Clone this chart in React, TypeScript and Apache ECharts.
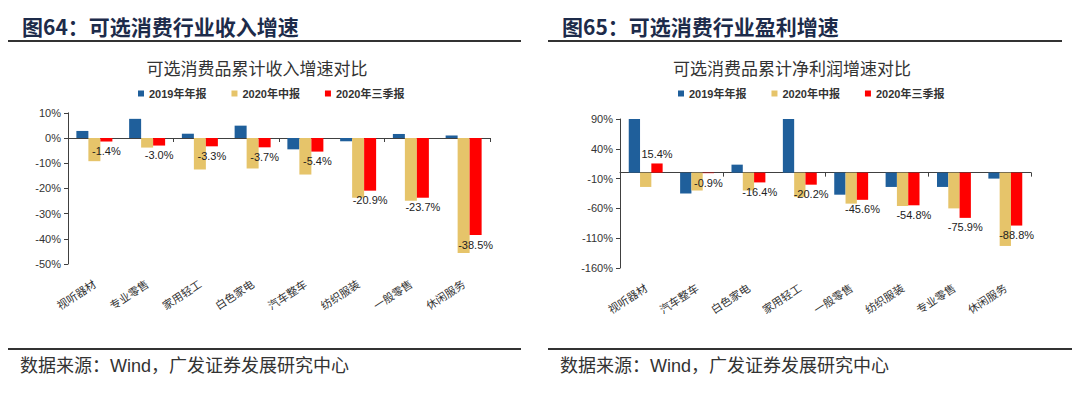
import React, { useEffect, useRef } from "react";
import * as echarts from "echarts";

const legendNames = ["2019年年报", "2020年中报", "2020年三季报"];
const barColors = ["#1F5F9B", "#E6C46A", "#FF0000"];

const revCategories = ["视听器材", "专业零售", "家用轻工", "白色家电", "汽车整车", "纺织服装", "一般零售", "休闲服务"];
const rev2019 = [2.8, 7.6, 1.7, 4.9, -4.5, -1.3, 1.6, 1.0];
const rev2020H1 = [-9.2, -3.8, -12.5, -12.1, -14.5, -23.7, -24.9, -45.6];
const rev2020Q3 = [-1.4, -3.0, -3.3, -3.7, -5.4, -20.9, -23.7, -38.5];

const profitCategories = ["视听器材", "汽车整车", "白色家电", "家用轻工", "一般零售", "纺织服装", "专业零售", "休闲服务"];
const profit2019 = [90, -35, 13.4, 90, -37, -24, -24, -10];
const profit2020H1 = [-24, -30, -30, -41, -52, -56, -60, -123];
const profit2020Q3 = [15.4, -0.9, -16.4, -20.2, -45.6, -54.8, -75.9, -88.8];

const revTicks = [-50, -40, -30, -20, -10, 0, 10];
const profitTicks = [-160, -110, -60, -10, 40, 90];

const headerLeft = "图64：可选消费行业收入增速";
const headerRight = "图65：可选消费行业盈利增速";
const titleLeft = "可选消费品累计收入增速对比";
const titleRight = "可选消费品累计净利润增速对比";
const sourceText = "数据来源：Wind，广发证券发展研究中心";

const NUM_FONT = '"Liberation Sans", Arial, "Noto Sans CJK SC", sans-serif';
const CJK_FONT = '"Noto Sans CJK SC", "Liberation Sans", sans-serif';
const AXIS_COLOR = "#404040";

export default function App() {
  const ref = useRef<HTMLDivElement>(null);

  useEffect(() => {
    if (!ref.current) return;
    const chart = echarts.init(ref.current, undefined, { renderer: "svg" });

    const labelData = (vals: number[]) =>
      vals.map((v) => ({ value: v, label: { position: v >= 0 ? "top" : "bottom" } }));

    const labelAxis = (gridIndex: number, data: string[]) => ({
      type: "category",
      gridIndex,
      data,
      position: "bottom",
      axisLine: { show: false, onZero: false },
      axisTick: { show: false },
      axisLabel: {
        interval: 0,
        rotate: 33,
        margin: 18,
        fontSize: 11,
        color: "#333",
        fontFamily: CJK_FONT,
      },
    });
    const zeroAxis = (gridIndex: number, data: string[]) => ({
      type: "category",
      gridIndex,
      data,
      position: "top",
      axisLine: { show: true, onZero: true, lineStyle: { color: AXIS_COLOR, width: 1 } },
      axisTick: { show: true, inside: true, length: 4, lineStyle: { color: AXIS_COLOR } },
      axisLabel: { show: false },
    });

    const yLabel = {
      fontSize: 11,
      color: "#333",
      fontFamily: NUM_FONT,
      margin: 7,
      formatter: (v: number) => `${v}%`,
    };

    const makeSeries = (
      xAxisIndex: number,
      yAxisIndex: number,
      a: number[],
      b: number[],
      c: number[],
      width: number
    ) => [
      {
        name: legendNames[0],
        type: "bar",
        xAxisIndex,
        yAxisIndex,
        data: a,
        barWidth: width,
        barGap: "0%",
        itemStyle: { color: barColors[0] },
      },
      {
        name: legendNames[1],
        type: "bar",
        xAxisIndex,
        yAxisIndex,
        data: b,
        barWidth: width,
        barGap: "0%",
        itemStyle: { color: barColors[1] },
      },
      {
        name: legendNames[2],
        type: "bar",
        xAxisIndex,
        yAxisIndex,
        data: labelData(c),
        barWidth: width,
        barGap: "0%",
        itemStyle: { color: barColors[2] },
        label: {
          show: true,
          distance: 4,
          fontSize: 11,
          color: "#222",
          fontFamily: NUM_FONT,
          formatter: (p: any) => `${Number(p.value).toFixed(1)}%`,
        },
      },
    ];

    const legend = (left: number) => ({
      data: legendNames,
      left,
      top: 83,
      icon: "rect",
      itemWidth: 6,
      itemHeight: 6,
      itemGap: 25,
      textStyle: { fontSize: 11, fontWeight: "bold", color: "#333", fontFamily: NUM_FONT },
    });

    const text = (x: number, y: number, t: string, font: string, fill: string, align = "left") => ({
      type: "text",
      x,
      y,
      style: { text: t, font, fill, align, verticalAlign: "middle" },
    });
    const hline = (x1: number, x2: number, y: number) => ({
      type: "line",
      shape: { x1, y1: y, x2, y2: y },
      style: { stroke: "#333", lineWidth: 2 },
    });

    chart.setOption({
      animation: false,
      backgroundColor: "#fff",
      grid: [
        { left: 68, top: 112.8, width: 422, height: 151.2, containLabel: false },
        { left: 620, top: 119, width: 411, height: 149, containLabel: false },
      ],
      legend: [legend(133), legend(673)],
      xAxis: [
        labelAxis(0, revCategories),
        zeroAxis(0, revCategories),
        labelAxis(1, profitCategories),
        zeroAxis(1, profitCategories),
      ],
      yAxis: [
        {
          type: "value",
          gridIndex: 0,
          min: revTicks[0],
          max: revTicks[revTicks.length - 1],
          interval: 10,
          axisLine: { show: true, onZero: false, lineStyle: { color: AXIS_COLOR } },
          axisTick: { show: true, length: 4, lineStyle: { color: AXIS_COLOR } },
          axisLabel: yLabel,
          splitLine: { show: false },
        },
        {
          type: "value",
          gridIndex: 1,
          min: profitTicks[0],
          max: profitTicks[profitTicks.length - 1],
          axisLine: { show: true, onZero: false, lineStyle: { color: AXIS_COLOR } },
          axisTick: { show: true, length: 4, customValues: profitTicks, lineStyle: { color: AXIS_COLOR } },
          axisLabel: { ...yLabel, customValues: profitTicks },
          splitLine: { show: false },
        },
      ],
      series: [
        ...makeSeries(0, 0, rev2019, rev2020H1, rev2020Q3, 12),
        ...makeSeries(2, 1, profit2019, profit2020H1, profit2020Q3, 11.3),
      ],
      graphic: [
        text(22, 26, headerLeft, `bold 21px ${CJK_FONT}`, "#1d2b4a"),
        text(562, 26, headerRight, `bold 21px ${CJK_FONT}`, "#1d2b4a"),
        hline(8, 521, 41),
        hline(548, 1062, 41),
        text(257, 67, titleLeft, `17px ${CJK_FONT}`, "#333", "center"),
        text(792, 67, titleRight, `17px ${CJK_FONT}`, "#333", "center"),
        hline(8, 521, 349),
        hline(548, 1072, 349),
        text(20, 366, sourceText, `18px ${NUM_FONT}`, "#333"),
        text(560, 366, sourceText, `18px ${NUM_FONT}`, "#333"),
      ],
    });

    return () => chart.dispose();
  }, []);

  return (
    <div
      ref={ref}
      style={{ position: "absolute", left: 0, top: 0, width: 1080, height: 393, background: "#fff" }}
    />
  );
}
